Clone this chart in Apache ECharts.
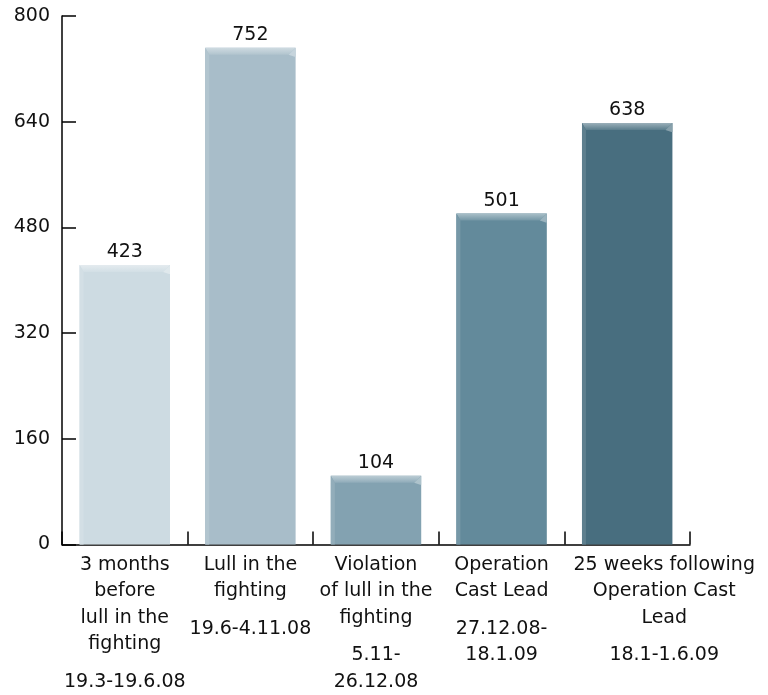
<!DOCTYPE html>
<html><head><meta charset="utf-8">
<script src="https://cdn.jsdelivr.net/npm/echarts@6/dist/echarts.min.js"></script>
<style>html,body{margin:0;padding:0;background:#fff}#c{width:768px;height:695px}</style>
</head><body><div id="c"></div>
<script>
var categories = ['3 months\nbefore\nlull in the\nfighting', 'Lull in the\nfighting', 'Violation\nof lull in the\nfighting', 'Operation\nCast Lead', '25 weeks following\nOperation Cast\nLead'];
var dates = ['19.3-19.6.08', '19.6-4.11.08', '5.11-\n26.12.08', '27.12.08-\n18.1.09', '18.1-1.6.09'];
var values = [423, 752, 104, 501, 638];
var colors = ['#cddbe2', '#a8bdc9', '#83a2b1', '#638a9b', '#486e7f'];
var yTicks = [0, 160, 320, 480, 640, 800];

var FONT = '"DejaVu Sans"';
var FS = 19;
var chart = echarts.init(document.getElementById('c'));

function lighten(hex, amt) {
  var n = parseInt(hex.slice(1), 16);
  var r = (n >> 16) & 255, g = (n >> 8) & 255, b = n & 255;
  r = Math.round(r + (255 - r) * amt); g = Math.round(g + (255 - g) * amt); b = Math.round(b + (255 - b) * amt);
  return 'rgb(' + r + ',' + g + ',' + b + ')';
}

var catData = categories.map(function (c, i) {
  return i === categories.length - 1 ? { value: c, textStyle: { padding: [0, 0, 0, 74] } } : c;
});

chart.setOption({
  animation: false,
  grid: { left: 62, right: 78, top: 16, bottom: 150, containLabel: false },
  xAxis: {
    type: 'category',
    data: catData,
    axisLine: { lineStyle: { color: '#000', width: 1.5 } },
    axisTick: { show: true, inside: true, length: 13, lineStyle: { color: '#000', width: 1.5 } },
    axisLabel: {
      interval: 0, margin: 7, color: '#111', fontFamily: FONT, fontSize: FS, lineHeight: 26.5,
      formatter: function (v, i) {
        var lines = v.split('\n').map(function (s) { return '{a|' + s + '}'; });
        var d = dates[i].split('\n').map(function (s) { return '{a|' + s + '}'; });
        return lines.join('\n') + '\n{g| }\n' + d.join('\n');
      },
      rich: {
        a: { fontFamily: FONT, fontSize: FS, lineHeight: 26.5, color: '#111' },
        g: { fontSize: 6, lineHeight: 11 }
      }
    }
  },
  yAxis: {
    type: 'value', min: 0, max: 800, interval: 160,
    axisLine: { show: true, lineStyle: { color: '#000', width: 1.5 } },
    axisTick: { show: true, inside: true, length: 14, lineStyle: { color: '#000', width: 1.5 } },
    splitLine: { show: false },
    axisLabel: { color: '#111', fontFamily: FONT, fontSize: FS, margin: 12,
      formatter: function (v) { return yTicks.indexOf(v) >= 0 ? String(v) : ''; } }
  },
  series: [{
    type: 'custom',
    data: values.map(function (v, i) { return [i, v]; }),
    encode: { x: 0, y: 1 },
    renderItem: function (params, api) {
      var i = api.value(0), v = api.value(1);
      var top = api.coord([i, v]);
      var base = api.coord([i, 0]);
      var bw = api.size([1, 0])[0] * 0.72;
      var x0 = top[0] - bw / 2, x1 = top[0] + bw / 2;
      var c = colors[i];
      var bev = 7, side = 4;
      return {
        type: 'group',
        children: [
          { type: 'rect', shape: { x: x0, y: top[1], width: bw, height: base[1] - top[1] }, style: { fill: c } },
          { type: 'polygon', shape: { points: [[x0, top[1]], [x1, top[1]], [x1 - bev, top[1] + bev], [x0 + side, top[1] + bev]] },
            style: { fill: new echarts.graphic.LinearGradient(0, 0, 0, 1, [{ offset: 0, color: lighten(c, 0.45) }, { offset: 1, color: lighten(c, 0.1) }]) } },
          { type: 'polygon', shape: { points: [[x0, top[1]], [x0 + side, top[1] + bev], [x0 + side, base[1]], [x0, base[1]]] },
            style: { fill: lighten(c, 0.12) } },
          { type: 'polygon', shape: { points: [[x1, top[1]], [x1 - bev, top[1] + bev], [x1 - 1, top[1] + bev + 2], [x1, top[1] + bev + 2]] },
            style: { fill: lighten(c, 0.35) } },
          { type: 'text', style: { text: String(v), x: top[0], y: top[1] - 3, align: 'center', verticalAlign: 'bottom',
            fill: '#111', font: FS + 'px ' + FONT } }
        ]
      };
    }
  }]
});
</script></body></html>
